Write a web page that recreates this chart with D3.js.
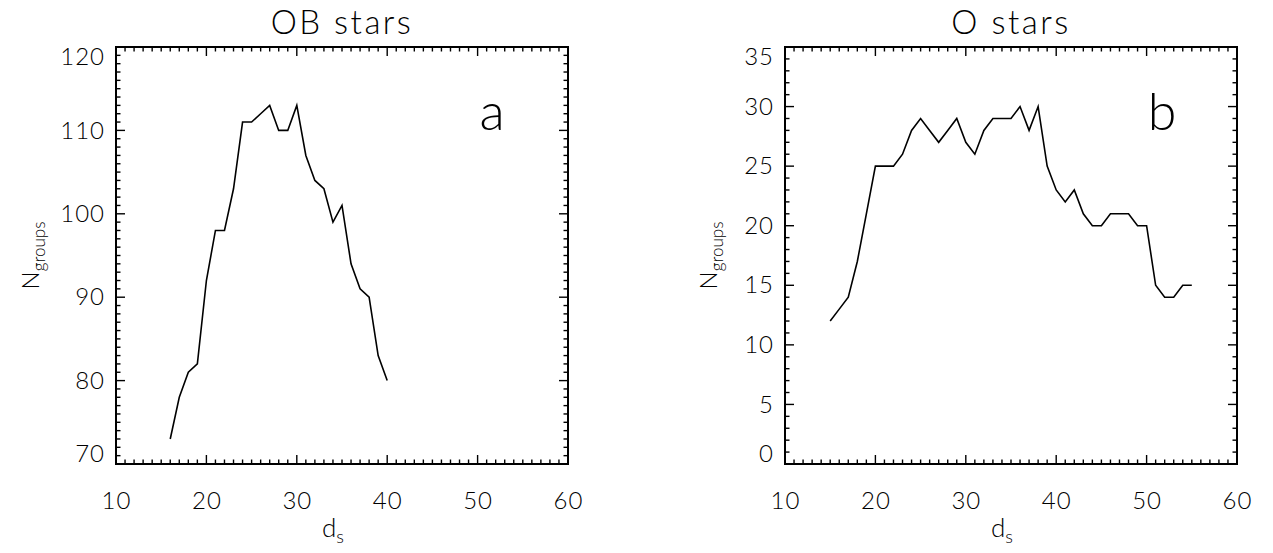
<!DOCTYPE html>
<html>
<head>
<meta charset="utf-8">
<script src="https://d3js.org/d3.v7.min.js"></script>
<style>
  body { margin: 0; background: #fff; }
  svg text { font-family: "Lato", "Open Sans", "DejaVu Sans", sans-serif; font-weight: 300; fill: #000; }
  .curve { fill: none; stroke: #000; stroke-width: 1.6; stroke-linejoin: miter; }
  .tick-mark { stroke: #000; stroke-width: 1.4; }
</style>
</head>
<body>
<svg id="chart" width="1273" height="553"></svg>
<script>
// panel a: OB stars
var dsOB = [16, 17, 18, 19, 20, 21, 22, 23, 24, 25, 26, 27, 28, 29, 30, 31, 32, 33, 34, 35, 36, 37, 38, 39, 40];
var nOB  = [73, 78, 81, 82, 92, 98, 98, 103, 111, 111, 112, 113, 110, 110, 113, 107, 104, 103, 99, 101, 94, 91, 90, 83, 80];

// panel b: O stars
var dsO = [15, 16, 17, 18, 19, 20, 21, 22, 23, 24, 25, 26, 27, 28, 29, 30, 31, 32, 33, 34,
           35, 36, 37, 38, 39, 40, 41, 42, 43, 44, 45, 46, 47, 48, 49, 50, 51, 52, 53, 54, 55];
var nO  = [12, 13, 14, 17, 21, 25, 25, 25, 26, 28, 29, 28, 27, 28, 29, 27, 26, 28, 29, 29,
           29, 30, 28, 30, 25, 23, 22, 23, 21, 20, 20, 21, 21, 21, 20, 20, 15, 14, 14, 15, 15];

var xTicks = [10, 20, 30, 40, 50, 60];
var yTicksOB = [70, 80, 90, 100, 110, 120];
var yTicksO = [0, 5, 10, 15, 20, 25, 30, 35];

var svg = d3.select("#chart");
var top_ = 47, bottom_ = 464, plotW = 452;
var majorLen = 9, minorLen = 4.5;

function labelAxis(sel) {
    sel.select(".domain").remove();
    sel.selectAll("line").remove();
    sel.selectAll("text").attr("fill", "#000").attr("font-size", "24px")
        .style("letter-spacing", "1px");
}

function drawPanel(opts) {
    var g = svg.append("g").attr("transform", "translate(" + opts.left + "," + top_ + ")");
    var h = bottom_ - top_;

    var x = d3.scaleLinear().domain([10, 60]).range([0, plotW]);
    var y = d3.scaleLinear().domain(opts.ydomain).range([h, 0]);

    var xAll = d3.range(10, 61, 1);
    var yAll = d3.range(opts.ydomain[0], opts.ydomain[1] + 0.001, 1);

    // tick labels from d3 axes
    g.append("g").attr("transform", "translate(0," + h + ")")
        .call(d3.axisBottom(x).tickValues(xTicks).tickSize(0).tickPadding(28).tickFormat(d3.format("d")))
        .call(labelAxis);
    var yax = g.append("g")
        .call(d3.axisLeft(y).tickValues(opts.yticks).tickSize(0).tickPadding(11).tickFormat(d3.format("d")))
        .call(labelAxis);
    // end labels are pulled inside the box, as in the original
    var first = opts.yticks[0], last = opts.yticks[opts.yticks.length - 1];
    yax.selectAll("text").attr("y", function(d) {
        return d === first ? -10 : (d === last ? 10 : 0);
    });

    // inward ticks on all four sides (IDL style)
    function xLen(v) { return xTicks.indexOf(v) >= 0 ? majorLen : minorLen; }
    function yLen(v) { return opts.yticks.indexOf(v) >= 0 ? majorLen : minorLen; }

    var ticks = g.append("g");
    ticks.selectAll(".xb").data(xAll).join("line").attr("class", "tick-mark")
        .attr("x1", x).attr("x2", x).attr("y1", h).attr("y2", function(d) { return h - xLen(d); });
    ticks.selectAll(".xt").data(xAll).join("line").attr("class", "tick-mark")
        .attr("x1", x).attr("x2", x).attr("y1", 0).attr("y2", function(d) { return xLen(d); });
    ticks.selectAll(".yl").data(yAll).join("line").attr("class", "tick-mark")
        .attr("y1", y).attr("y2", y).attr("x1", 0).attr("x2", function(d) { return yLen(d); });
    ticks.selectAll(".yr").data(yAll).join("line").attr("class", "tick-mark")
        .attr("y1", y).attr("y2", y).attr("x1", plotW).attr("x2", function(d) { return plotW - yLen(d); });

    g.append("rect")
        .attr("x", 0).attr("y", 0).attr("width", plotW).attr("height", h)
        .attr("fill", "none").attr("stroke", "#000").attr("stroke-width", 2);

    var line = d3.line()
        .x(function(d, i) { return x(opts.xs[i]); })
        .y(function(d) { return y(d); });

    g.append("path")
        .datum(opts.ys)
        .attr("class", "curve")
        .attr("d", line);

    // title
    g.append("text")
        .attr("x", plotW / 2).attr("y", -13)
        .attr("text-anchor", "middle")
        .attr("font-size", "33px")
        .style("letter-spacing", "2.5px")
        .text(opts.title);

    // panel letter
    g.append("text")
        .attr("x", opts.letterX).attr("y", 83)
        .attr("text-anchor", "middle")
        .attr("font-size", "52px")
        .text(opts.letter);

    // x label d_s
    var xl = g.append("text")
        .attr("x", plotW / 2 - 20).attr("y", h + 73)
        .attr("font-size", "26px");
    xl.append("tspan").text("d");
    xl.append("tspan").attr("font-size", "18px").attr("dy", 6).text("s");

    // y label N_groups
    var yl = g.append("text")
        .attr("transform", "translate(" + opts.ylabelX + "," + (h / 2) + ") rotate(-90)")
        .attr("text-anchor", "middle")
        .attr("font-size", "24px");
    yl.append("tspan").text("N");
    yl.append("tspan").attr("font-size", "17px").attr("dy", 6).text("groups");
}

drawPanel({ left: 116, ydomain: [70, 120], yticks: yTicksOB,
            xs: dsOB, ys: nOB, title: "OB stars", letter: "a", letterX: 376, ylabelX: -77 });
drawPanel({ left: 785, ydomain: [0, 35], yticks: yTicksO,
            xs: dsO, ys: nO, title: "O stars", letter: "b", letterX: 377, ylabelX: -68 });
</script>
</body>
</html>
